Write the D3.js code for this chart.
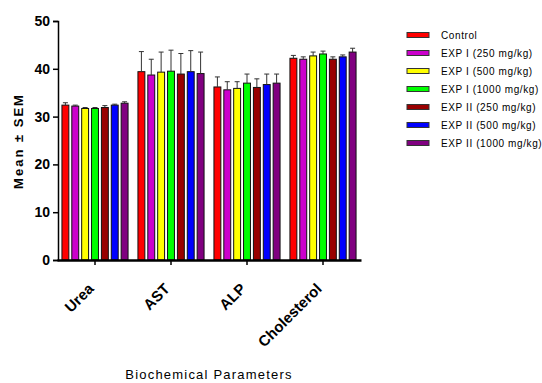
<!DOCTYPE html>
<html>
<head>
<meta charset="utf-8">
<script src="https://cdn.jsdelivr.net/npm/d3@7"></script>
<style>
  body { margin: 0; background: #fff; }
  svg { display: block; font-family: "Liberation Sans", Arial, sans-serif; }
</style>
</head>
<body>
<svg id="chart" width="542" height="383"></svg>
<script>
// parameters on the x axis
const parameters = ['Urea', 'AST', 'ALP', 'Cholesterol'];
// treatment groups (legend order)
const groups = ['Control', 'EXP I (250 mg/kg)', 'EXP I (500 mg/kg)', 'EXP I (1000 mg/kg)',
  'EXP II (250 mg/kg)', 'EXP II (500 mg/kg)', 'EXP II (1000 mg/kg)'];
const groupColours = ['#ff0000', '#cc00cc', '#ffff00', '#00ff00', '#990000', '#0000ff', '#800080'];

// mean values per group, one entry per parameter
const control    = [32.4, 39.4, 36.2, 42.2];
const exp1_250   = [32.2, 38.7, 35.6, 42.0];
const exp1_500   = [31.7, 39.3, 35.9, 42.7];
const exp1_1000  = [31.7, 39.5, 37.0, 43.1];
const exp2_250   = [31.9, 38.9, 36.1, 42.0];
const exp2_500   = [32.4, 39.4, 36.7, 42.5];
const exp2_1000  = [32.8, 39.0, 37.0, 43.5];

// SEM per group
const control_sem    = [0.5, 4.2, 2.1, 0.6];
const exp1_250_sem   = [0.2, 3.3, 1.7, 0.5];
const exp1_500_sem   = [0.2, 4.2, 1.4, 0.8];
const exp1_1000_sem  = [0.2, 4.4, 1.9, 0.6];
const exp2_250_sem   = [0.4, 4.3, 1.8, 0.5];
const exp2_500_sem   = [0.2, 4.4, 2.2, 0.4];
const exp2_1000_sem  = [0.3, 4.5, 1.9, 0.8];

const yTicks = [0, 10, 20, 30, 40, 50];

const means = [control, exp1_250, exp1_500, exp1_1000, exp2_250, exp2_500, exp2_1000];
const sems = [control_sem, exp1_250_sem, exp1_500_sem, exp1_1000_sem, exp2_250_sem, exp2_500_sem, exp2_1000_sem];

const svg = d3.select('#chart');

const x0 = d3.scaleBand().domain(parameters).range([57, 361]).paddingInner(0.13).paddingOuter(0.065);
const x1 = d3.scaleBand().domain(groups).range([0, x0.bandwidth()]).paddingInner(0.3);
const y = d3.scaleLinear().domain([0, 50]).range([260, 21]);

const rows = [];
parameters.forEach((p, i) => {
  groups.forEach((g, j) => {
    rows.push({ param: p, group: g, colour: groupColours[j], mean: means[j][i], sem: sems[j][i] });
  });
});

// bars
svg.append('g')
  .selectAll('rect')
  .data(rows)
  .enter()
  .append('rect')
  .attr('x', d => x0(d.param) + x1(d.group))
  .attr('y', d => y(d.mean))
  .attr('width', x1.bandwidth())
  .attr('height', d => y(0) - y(d.mean))
  .attr('fill', d => d.colour)
  .attr('stroke', '#111')
  .attr('stroke-width', 1);

// error bars (upper only)
const err = svg.append('g').attr('stroke', '#333').attr('stroke-width', 1);
err.selectAll('line.v')
  .data(rows)
  .enter()
  .append('line')
  .attr('class', 'v')
  .attr('x1', d => x0(d.param) + x1(d.group) + x1.bandwidth() / 2)
  .attr('x2', d => x0(d.param) + x1(d.group) + x1.bandwidth() / 2)
  .attr('y1', d => y(d.mean))
  .attr('y2', d => y(d.mean + d.sem));
err.selectAll('line.c')
  .data(rows)
  .enter()
  .append('line')
  .attr('class', 'c')
  .attr('x1', d => x0(d.param) + x1(d.group) + x1.bandwidth() / 2 - 2.5)
  .attr('x2', d => x0(d.param) + x1(d.group) + x1.bandwidth() / 2 + 2.5)
  .attr('y1', d => y(d.mean + d.sem))
  .attr('y2', d => y(d.mean + d.sem));

// y axis
const yAxis = svg.append('g')
  .attr('transform', 'translate(58,0)')
  .call(d3.axisLeft(y).tickValues(yTicks).tickSize(5).tickPadding(3));
yAxis.select('.domain').attr('stroke', '#000').attr('stroke-width', 1.5);
yAxis.selectAll('.tick line').attr('stroke', '#000').attr('stroke-width', 1.5);
yAxis.selectAll('.tick text')
  .attr('fill', '#000')
  .style('font-size', '14px')
  .style('font-weight', 'bold')
  .style('font-family', '"Liberation Sans", Arial, sans-serif');

// x axis
const xAxis = svg.append('g')
  .attr('transform', 'translate(0,260)')
  .call(d3.axisBottom(x0).tickSize(5).tickSizeOuter(0));
xAxis.select('.domain').attr('stroke', '#000').attr('stroke-width', 2.5);
xAxis.selectAll('.tick line').attr('stroke', '#000').attr('stroke-width', 1.5);
xAxis.selectAll('.tick text')
  .attr('fill', '#000')
  .style('font-size', '15px')
  .style('font-weight', 'bold')
  .style('font-family', '"Liberation Sans", Arial, sans-serif')
  .attr('text-anchor', 'end')
  .attr('x', 0)
  .attr('y', 0)
  .attr('dy', '0.35em')
  .attr('transform', 'translate(-4,26) rotate(-45)');

// axis titles
svg.append('text')
  .attr('transform', 'translate(23,141) rotate(-90)')
  .attr('text-anchor', 'middle')
  .style('font-size', '13px')
  .style('font-weight', 'bold')
  .style('letter-spacing', '2px')
  .text('Mean \u00B1 SEM');

svg.append('text')
  .attr('x', 209)
  .attr('y', 379)
  .attr('text-anchor', 'middle')
  .style('font-size', '13px')
  .style('letter-spacing', '1.2px')
  .text('Biochemical Parameters');

// legend
const legend = svg.append('g')
  .selectAll('g')
  .data(groups)
  .enter()
  .append('g')
  .attr('transform', (d, i) => `translate(407,${35 + i * 18})`);
legend.append('rect')
  .attr('x', 0)
  .attr('y', -2.5)
  .attr('width', 22)
  .attr('height', 5)
  .attr('fill', (d, i) => groupColours[i])
  .attr('stroke', '#333')
  .attr('stroke-width', 1);
legend.append('text')
  .attr('x', 34)
  .attr('y', 0)
  .attr('dy', '0.35em')
  .style('font-size', '10px')
  .style('letter-spacing', '0.6px')
  .text(d => d);
</script>
</body>
</html>
